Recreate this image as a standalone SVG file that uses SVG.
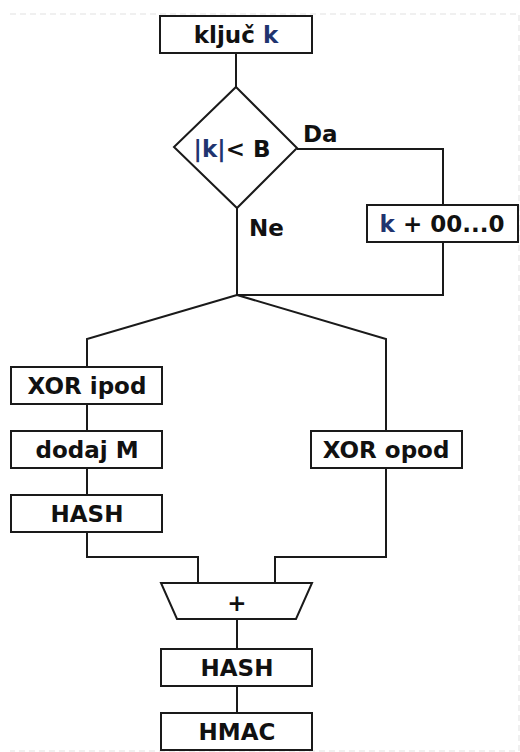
<svg xmlns="http://www.w3.org/2000/svg" width="520" height="752" viewBox="0 0 520 752">
<style>
.box{fill:#fff;stroke:#1a1a1a;stroke-width:2}
.ln{fill:none;stroke:#1a1a1a;stroke-width:2}
.t{font-family:"DejaVu Sans",Verdana,sans-serif;font-weight:bold;font-size:23px;fill:#111;text-anchor:middle}
.l{font-family:"DejaVu Sans",Verdana,sans-serif;font-weight:bold;font-size:23px;fill:#111}
.k{fill:#1f3470}
.frame{fill:none;stroke:#ececec;stroke-width:1.5;stroke-dasharray:6 4}
</style>
<rect width="520" height="752" fill="#fff"/>
<path class="frame" d="M10 14H519V751H10"/>
<g id="connectors">
<path class="ln" d="M236 53V87"/>
<path class="ln" d="M297 149H443V205"/>
<path class="ln" d="M237 208V295H443V242"/>
<path class="ln" d="M237 295L87 339V367"/>
<path class="ln" d="M237 295L386 339V431"/>
<path class="ln" d="M87 404V431"/>
<path class="ln" d="M87 468V495"/>
<path class="ln" d="M87 532V557H198V583"/>
<path class="ln" d="M386 468V557H275V583"/>
<path class="ln" d="M237 619V649"/>
<path class="ln" d="M237 686V713"/>
</g>
<g id="key">
<rect class="box" x="160" y="16" width="152" height="37"/>
<text class="t" x="236" y="43">ključ <tspan class="k">k</tspan></text>
</g>
<g id="decision">
<polygon class="box" points="236,87 297,148 237,208 174,147"/>
<text class="t" x="232" y="157"><tspan class="k">|k|</tspan>&lt; B</text>
</g>
<text class="l" x="303" y="142">Da</text>
<text class="l" x="249" y="236">Ne</text>
<g id="pad">
<rect class="box" x="367" y="205" width="151" height="37"/>
<text class="t" x="442" y="232"><tspan class="k">k</tspan> + 00...0</text>
</g>
<g id="xor-ipad">
<rect class="box" x="11" y="367" width="151" height="37"/>
<text class="t" x="87" y="394">XOR ipod</text>
</g>
<g id="append-m">
<rect class="box" x="11" y="431" width="151" height="37"/>
<text class="t" x="87" y="458">dodaj M</text>
</g>
<g id="hash1">
<rect class="box" x="11" y="495" width="151" height="37"/>
<text class="t" x="87" y="522">HASH</text>
</g>
<g id="xor-opad">
<rect class="box" x="311" y="431" width="151" height="37"/>
<text class="t" x="386" y="458">XOR opod</text>
</g>
<g id="concat">
<polygon class="box" points="161,583 312,583 296,619 177,619"/>
<text class="t" x="237" y="611">+</text>
</g>
<g id="hash2">
<rect class="box" x="161" y="649" width="151" height="37"/>
<text class="t" x="237" y="676">HASH</text>
</g>
<g id="hmac">
<rect class="box" x="161" y="713" width="151" height="37"/>
<text class="t" x="237" y="740">HMAC</text>
</g>
</svg>
